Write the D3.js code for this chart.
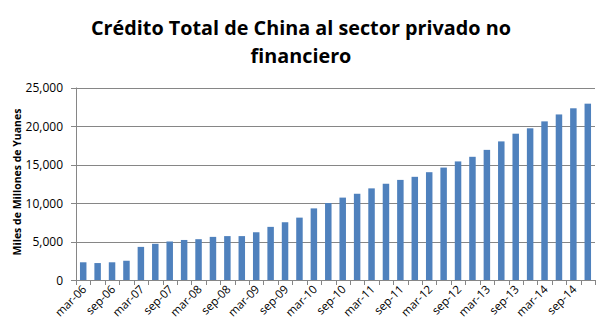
<!DOCTYPE html>
<html><head><meta charset="utf-8">
<script src="https://cdn.jsdelivr.net/npm/d3@7"></script>
<style>body{margin:0;background:#fff}</style>
</head><body>
<svg id="c" width="611" height="333"></svg>
<script>
const years = ["06","07","08","09","10","11","12","13","14"];
const months = ["mar","jun","sep","dic"];
const categories = [];
years.forEach(y => months.forEach(m => categories.push(m + "-" + y)));
const values = [2300,2200,2300,2500,4300,4700,5000,5200,5300,5600,5700,5700,
  6200,6900,7500,8100,9300,10000,10700,11200,11900,12500,13000,13400,
  14000,14600,15400,16000,16900,18000,19000,19700,20600,21500,22300,22900];
const yTicks = [0,5000,10000,15000,20000,25000];

const svg = d3.select("#c");
const m = {l:76, r:16, t:87.5, b:53};
const W = 611, H = 333;
const x = d3.scaleBand().domain(categories).range([m.l, W - m.r]).paddingInner(0.55).paddingOuter(0.275);
const y = d3.scaleLinear().domain([0,25000]).range([H - m.b, m.t]);
const fmt = d3.format(",");

// gridlines
svg.append("g").selectAll("line").data(yTicks).join("line")
  .attr("x1", m.l - 5).attr("x2", W - m.r)
  .attr("y1", d => Math.round(y(d)) + 0.5).attr("y2", d => Math.round(y(d)) + 0.5)
  .attr("stroke", "#868686").attr("stroke-width", 1);

svg.append("g").selectAll("text").data(yTicks).join("text")
  .attr("x", m.l - 13).attr("y", d => y(d) + 4.5)
  .attr("text-anchor", "end").attr("font-family", "Open Sans, sans-serif").attr("font-size", 12)
  .attr("fill", "#000").text(d => fmt(d));

// bars
svg.append("g").selectAll("rect").data(values).join("rect")
  .attr("x", (d,i) => x(categories[i])).attr("width", x.bandwidth())
  .attr("y", d => y(d)).attr("height", d => y(0) - y(d))
  .attr("fill", "#4f81bd");

// axes lines
const step = x.step();
svg.append("line").attr("x1", m.l + 0.5).attr("x2", m.l + 0.5).attr("y1", m.t).attr("y2", y(0))
  .attr("stroke", "#868686");
svg.append("g").selectAll("line").data(d3.range(categories.length + 1)).join("line")
  .attr("x1", i => Math.round(x(categories[0]) - x.paddingOuter()*step + i*step) + 0.5)
  .attr("x2", i => Math.round(x(categories[0]) - x.paddingOuter()*step + i*step) + 0.5)
  .attr("y1", y(0)).attr("y2", y(0) + 5).attr("stroke", "#868686");

// x labels
svg.append("g").selectAll("text").data(categories.filter((c,i) => i % 2 === 0)).join("text")
  .attr("transform", d => `translate(${x(d) + x.bandwidth()/2 + 4},${y(0) + 10}) rotate(-45)`)
  .attr("text-anchor", "end").attr("font-family", "Open Sans, sans-serif").attr("font-size", 11.5)
  .attr("fill", "#000").text(d => d);

// y title
svg.append("text").attr("transform", "translate(21,182) rotate(-90)")
  .attr("text-anchor", "middle").attr("font-family", "Open Sans, sans-serif").attr("font-weight", "bold")
  .attr("font-size", 10.5).text("Miles de Millones de Yuanes");

// title
const title = ["Crédito Total de China al sector privado no", "financiero"];
svg.append("g").selectAll("text").data(title).join("text")
  .attr("x", 301).attr("y", (d,i) => 35 + i*28)
  .attr("text-anchor", "middle").attr("font-family", "Open Sans, sans-serif").attr("font-weight", "bold")
  .attr("font-size", 19.8).text(d => d);
</script>
</body></html>
